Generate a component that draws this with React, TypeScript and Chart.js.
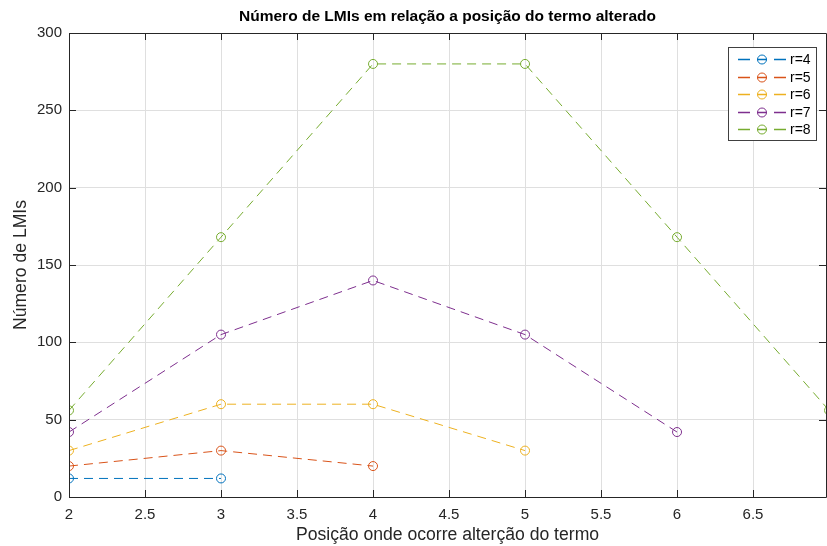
import React, { useEffect, useRef } from "react";
import { Chart, registerables } from "chart.js";

Chart.register(...registerables);

const titleText = "Número de LMIs em relação a posição do termo alterado";
const xTitle = "Posição onde ocorre alterção do termo";
const yTitle = "Número de LMIs";

const seriesLabels = ["r=4", "r=5", "r=6", "r=7", "r=8"];
const seriesColors = ["#0072BD", "#D95319", "#EDB120", "#7E2F8E", "#77AC30"];
const xR4 = [2, 3];
const yR4 = [12, 12];
const xR5 = [2, 3, 4];
const yR5 = [20, 30, 20];
const xR6 = [2, 3, 4, 5];
const yR6 = [30, 60, 60, 30];
const xR7 = [2, 3, 4, 5, 6];
const yR7 = [42, 105, 140, 105, 42];
const xR8 = [2, 3, 4, 5, 6, 7];
const yR8 = [56, 168, 280, 280, 168, 56];

const xMin = 2;
const xMax = 6.98;
const xStep = 0.5;
const yMin = 0;
const yMax = 300;
const yStep = 50;

const allX = [xR4, xR5, xR6, xR7, xR8];
const allY = [yR4, yR5, yR6, yR7, yR8];

const FONT = "'Liberation Sans', Arial, Helvetica, sans-serif";
const AXIS_COLOR = "#262626";

const boxPlugin = {
  id: "matlabBox",
  afterDraw(chart: any) {
    const { ctx, chartArea } = chart;
    const { left, right, top, bottom } = chartArea;
    const xs = chart.scales.x;
    const ys = chart.scales.y;
    ctx.save();
    ctx.setLineDash([]);
    ctx.strokeStyle = AXIS_COLOR;
    ctx.lineWidth = 1;
    ctx.beginPath();
    ctx.rect(Math.round(left) + 0.5, Math.round(top) + 0.5, Math.round(right - left), Math.round(bottom - top));
    ctx.stroke();
    const tl = 7;
    ctx.beginPath();
    xs.ticks.forEach((t: any) => {
      const px = Math.round(xs.getPixelForValue(t.value)) + 0.5;
      ctx.moveTo(px, bottom);
      ctx.lineTo(px, bottom - tl);
      ctx.moveTo(px, top);
      ctx.lineTo(px, top + tl);
    });
    ys.ticks.forEach((t: any) => {
      const py = Math.round(ys.getPixelForValue(t.value)) + 0.5;
      ctx.moveTo(left, py);
      ctx.lineTo(left + tl, py);
      ctx.moveTo(right, py);
      ctx.lineTo(right - tl, py);
    });
    ctx.stroke();

    // title
    ctx.fillStyle = "#000";
    ctx.font = `bold 15.5px ${FONT}`;
    ctx.textAlign = "center";
    ctx.textBaseline = "middle";
    ctx.fillText(titleText, (left + right) / 2, 17);

    // legend
    const lx = 728.5, ly = 47.5, lw = 88, lh = 93;
    ctx.fillStyle = "#fff";
    ctx.fillRect(lx, ly, lw, lh);
    ctx.strokeStyle = "#404040";
    ctx.lineWidth = 1;
    ctx.strokeRect(lx, ly, lw, lh);
    ctx.font = `14px ${FONT}`;
    ctx.textAlign = "left";
    ctx.textBaseline = "middle";
    seriesLabels.forEach((lab, i) => {
      const cy = Math.round(59 + i * 17.5) + 0.5;
      const col = seriesColors[i];
      ctx.strokeStyle = col;
      ctx.lineWidth = 1.3;
      ctx.beginPath();
      ctx.moveTo(738, cy);
      ctx.lineTo(750, cy);
      ctx.moveTo(757, cy);
      ctx.lineTo(767, cy);
      ctx.moveTo(774, cy);
      ctx.lineTo(786, cy);
      ctx.stroke();
      ctx.lineWidth = 1;
      ctx.beginPath();
      ctx.arc(762, cy, 4.5, 0, Math.PI * 2);
      ctx.stroke();
      ctx.fillStyle = "#000";
      ctx.fillText(lab, 790, cy + 1);
    });
    ctx.restore();
  },
};

const fmt = (v: any) => String(Math.round(Number(v) * 100) / 100);

export default function App() {
  const ref = useRef<HTMLCanvasElement | null>(null);
  useEffect(() => {
    if (!ref.current) return;
    const datasets = seriesLabels.map((lab, i) => ({
      label: lab,
      data: allX[i].map((x, j) => ({ x, y: allY[i][j] })),
      borderColor: seriesColors[i],
      backgroundColor: "rgba(0,0,0,0)",
      borderWidth: 1,
      borderDash: [9, 6],
      pointStyle: "circle",
      pointRadius: 4.5,
      pointBorderWidth: 1,
      pointBorderColor: seriesColors[i],
      pointBackgroundColor: "rgba(0,0,0,0)",
      fill: false,
      tension: 0,
      order: seriesLabels.length - i,
    }));
    const chart = new Chart(ref.current, {
      type: "line",
      data: { datasets },
      plugins: [boxPlugin],
      options: {
        animation: false,
        responsive: false,
        maintainAspectRatio: false,
        layout: { autoPadding: false, padding: { top: 33, right: 1, left: 0, bottom: 0 } },
        plugins: { legend: { display: false }, title: { display: false }, tooltip: { enabled: false } },
        scales: {
          x: {
            type: "linear",
            min: xMin,
            max: xMax,
            afterFit: (s: any) => {
              s.height = 49;
              s.paddingLeft = 0;
              s.paddingRight = 0;
            },
            ticks: {
              stepSize: xStep,
              includeBounds: false,
              color: AXIS_COLOR,
              font: { family: FONT, size: 15 },
              padding: 9,
              maxRotation: 0,
              callback: (v: any) => fmt(v),
            },
            grid: { color: "#dfdfdf", drawTicks: false },
            border: { display: false },
            title: {
              display: true,
              text: xTitle,
              color: AXIS_COLOR,
              font: { family: FONT, size: 17.6 },
              padding: { top: 0, bottom: 0 },
            },
          },
          y: {
            type: "linear",
            min: yMin,
            max: yMax,
            afterFit: (s: any) => {
              s.width = 69;
              s.paddingTop = 0;
              s.paddingBottom = 0;
            },
            ticks: {
              stepSize: yStep,
              color: AXIS_COLOR,
              font: { family: FONT, size: 15 },
              padding: 7,
              callback: (v: any) => fmt(v),
            },
            grid: { color: "#dfdfdf", drawTicks: false },
            border: { display: false },
            title: {
              display: true,
              text: yTitle,
              color: AXIS_COLOR,
              font: { family: FONT, size: 17.6 },
              padding: { top: 11, bottom: 0 },
            },
          },
        },
      },
    } as any);
    return () => chart.destroy();
  }, []);
  return (
    <div style={{ position: "fixed", left: 0, top: 0, width: 827, height: 546, background: "#fff" }}>
      <canvas ref={ref} width={827} height={546} style={{ display: "block" }} />
    </div>
  );
}
